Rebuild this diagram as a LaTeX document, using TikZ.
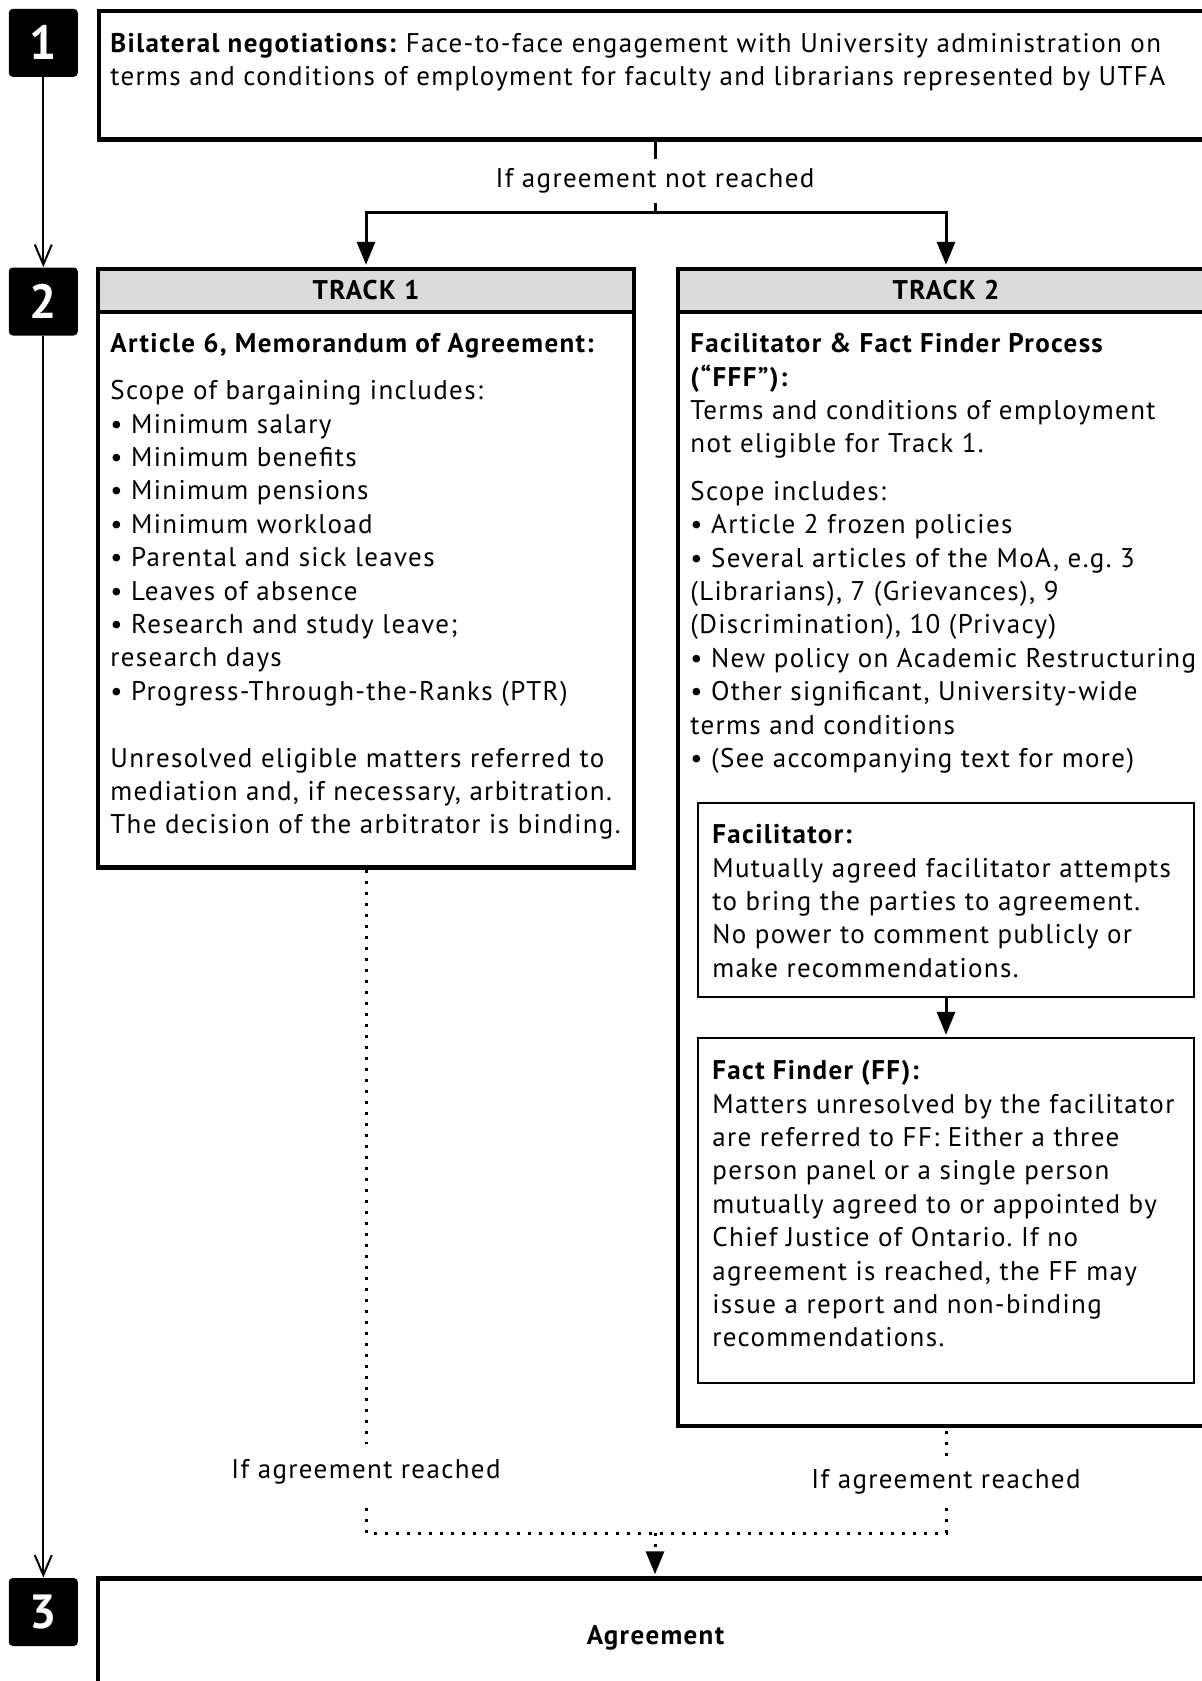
\documentclass[tikz,border=0pt]{standalone}
\usepackage{fontspec}
\setmainfont{PT Sans}[LetterSpace=5]
\usepackage{xcolor}
\definecolor{headgray}{gray}{0.86}
\usetikzlibrary{arrows.meta,positioning}
\frenchspacing

\begin{document}
\begin{tikzpicture}[
  x=0.5pt, y=-0.5pt,
  font=\fontsize{13.5}{16.7}\selectfont,
  numbox/.style={
    rectangle, rounded corners=2pt, fill=black, text=white,
    minimum width=34.5pt, minimum height=34pt, inner sep=0pt,
    font=\fontsize{24}{24}\selectfont\bfseries
  },
  mainbox/.style={rectangle, draw, line width=2.2pt, inner sep=0pt},
  headbox/.style={
    rectangle, draw, fill=headgray, line width=2.2pt, inner sep=0pt,
    minimum width=268pt, minimum height=21.5pt,
    font=\fontsize{13.5}{16.7}\selectfont\bfseries
  },
  subbox/.style={rectangle, draw, line width=1.2pt, inner sep=0pt,
    minimum width=247.75pt},
  body/.style={anchor=north west, align=left, inner sep=0pt},
  lbl/.style={fill=white, inner xsep=2pt, inner ysep=#1},
  lbl/.default=5pt,
  stepline/.style={line width=1pt, -{Straight Barb[length=10pt,width=8.5pt]}},
  flow/.style={line width=1.5pt, -{Triangle[length=11.5pt,width=9pt]}, shorten >=1pt},
  reached/.style={line width=1.5pt, dash pattern=on 1.5pt off 4pt},
  line/.style={line width=1.5pt}
]
\useasboundingbox (0,0) rectangle (1202,1681);
\clip (0,0) rectangle (1202,1681);

\node[numbox] (stepone) at (43.3,42.8) {1};
\node[numbox] (steptwo) at (43.3,301.5) {2};
\node[numbox] (stepthree) at (43.3,1612) {3};
\draw[stepline] (stepone) -- (steptwo);
\draw[stepline] (steptwo) -- (stepthree);

\node[mainbox, minimum width=557pt, minimum height=64.25pt] (bilat) at (656,75.25) {};
\node[body] (bilattext) at (110,33) {\textbf{Bilateral negotiations:} Face-to-face engagement with University administration on\\
terms and conditions of employment for faculty and librarians represented by UTFA};

\node[mainbox, minimum width=268pt, minimum height=299.25pt] (trackone) at (366,568.25) {};
\node[headbox, anchor=north] (onehead) at (trackone.north) {TRACK 1};
\node[body] (onetext) at (110,333) {\textbf{Article 6, Memorandum of Agreement:}\\[6.8pt]
Scope of bargaining includes:\\
\textbullet{} Minimum salary\\
\textbullet{} Minimum benefits\\
\textbullet{} Minimum pensions\\
\textbullet{} Minimum workload\\
\textbullet{} Parental and sick leaves\\
\textbullet{} Leaves of absence\\
\textbullet{} Research and study leave;\\
research days\\
\textbullet{} Progress-Through-the-Ranks (PTR)\\[16.7pt]
Unresolved eligible matters referred to\\
mediation and, if necessary, arbitration.\\
The decision of the arbitrator is binding.};

\node[mainbox, minimum width=268pt, minimum height=578.5pt] (tracktwo) at (946,847.5) {};
\node[headbox, anchor=north] (twohead) at (tracktwo.north) {TRACK 2};
\node[body] (twotext) at (690,333) {\textbf{Facilitator \& Fact Finder Process}\\
\textbf{(“FFF”):}\\
Terms and conditions of employment\\
not eligible for Track 1.\\[7pt]
Scope includes:\\
\textbullet{} Article 2 frozen policies\\
\textbullet{} Several articles of the MoA, e.g. 3\\
(Librarians), 7 (Grievances), 9\\
(Discrimination), 10 (Privacy)\\
\textbullet{} New policy on Academic Restructuring\\
\textbullet{} Other significant, University-wide\\
terms and conditions\\
\textbullet{} (See accompanying text for more)};

\node[subbox, minimum height=97pt] (facil) at (946,900) {};
\node[body] (faciltext) at (712,824) {\textbf{Facilitator:}\\
Mutually agreed facilitator attempts\\
to bring the parties to agreement.\\
No power to comment publicly or\\
make recommendations.};
\node[subbox, minimum height=172.5pt] (finder) at (946,1210.5) {};
\node[body] (findertext) at (712,1060) {\textbf{Fact Finder (FF):}\\
Matters unresolved by the facilitator\\
are referred to FF: Either a three\\
person panel or a single person\\
mutually agreed to or appointed by\\
Chief Justice of Ontario. If no\\
agreement is reached, the FF may\\
issue a report and non-binding\\
recommendations.};
\draw[flow] (facil) -- (finder);

\node[mainbox, minimum width=557.5pt, minimum height=59.5pt, font=\fontsize{13.5}{16.7}\selectfont\bfseries] (agree) at (655.5,1638) {Agreement};

\coordinate (split) at (655,212);
\draw[line] (bilat.south -| split) -- (split);
\node[lbl] (notreached) at (655,181) {If agreement not reached};
\draw[flow] (split) -| (trackone.north);
\draw[flow] (split) -| (tracktwo.north);

\coordinate (onecorner) at (366,1533);
\coordinate (twocorner) at (946,1533);
\coordinate (merge) at (655,1533);
\draw[reached] (trackone.south) -- (onecorner) -- (twocorner) -- (tracktwo.south);
\node[lbl=8pt] (onereached) at (366,1472) {If agreement reached};
\node[lbl=7pt] (tworeached) at (946,1482) {If agreement reached};
\draw[reached, -{Triangle[length=11.5pt,width=9pt]}, shorten >=1pt] (merge) -- (merge |- agree.north);
\end{tikzpicture}
\end{document}
